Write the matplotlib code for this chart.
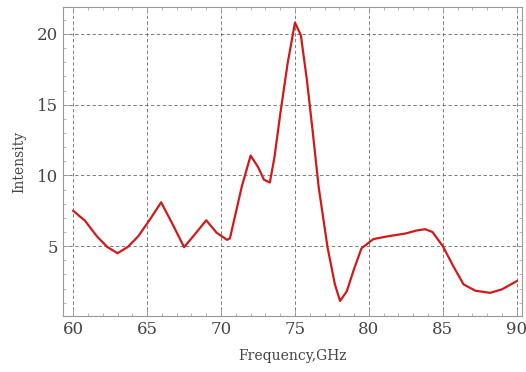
import matplotlib.pyplot as plt
from matplotlib.ticker import MultipleLocator

freq = [60.0, 60.8, 61.6, 62.3, 63.0, 63.7, 64.4, 65.2, 65.95, 66.7, 67.5,
        68.2, 69.0, 69.7, 70.4, 70.6, 71.4, 72.0, 72.5, 72.9, 73.3, 73.6,
        74.0, 74.5, 75.0, 75.4, 75.8, 76.2, 76.6, 77.2, 77.7, 78.05, 78.5,
        79.0, 79.5, 80.3, 81.3, 82.5, 83.2, 83.8, 84.3, 85.0, 85.7, 86.4,
        87.2, 88.2, 89.0, 90.0]
intensity = [7.5, 6.8, 5.7, 4.95, 4.5, 4.95, 5.7, 6.9, 8.1, 6.6, 4.93,
             5.8, 6.83, 5.95, 5.45, 5.55, 9.2, 11.4, 10.6, 9.7, 9.5, 11.2,
             14.3, 17.9, 20.8, 19.9, 16.8, 13.1, 9.2, 4.93, 2.3, 1.13, 1.8,
             3.4, 4.85, 5.5, 5.7, 5.9, 6.1, 6.2, 6.0, 5.0, 3.6, 2.3,
             1.85, 1.7, 1.95, 2.53]

fig = plt.figure(figsize=(5.26, 3.72), dpi=100)
ax = fig.add_axes([0.12, 0.15, 0.872, 0.831])

ax.plot(freq, intensity, color='#d01a1a', linewidth=1.6)

ax.set_xlim(59.32, 90.34)
ax.set_ylim(0.05, 21.9)
ax.xaxis.set_major_locator(MultipleLocator(5))
ax.xaxis.set_minor_locator(MultipleLocator(1))
ax.yaxis.set_minor_locator(MultipleLocator(1))
ax.set_yticks([5, 10, 15, 20])
ax.tick_params(which='both', direction='in', top=True, right=True, colors='#999999',
               labelcolor='#444444', labelsize=12)
ax.tick_params(which='major', length=4, width=0.6)
ax.tick_params(which='minor', length=2, width=0.5)
for lab in ax.get_xticklabels() + ax.get_yticklabels():
    lab.set_family('DejaVu Serif')
for s in ax.spines.values():
    s.set_color('#999999')

ax.grid(True, which='major', color='#666666', linestyle=(0, (4, 3)), linewidth=0.6)

ax.set_xlabel('Frequency,GHz', family='DejaVu Serif', fontsize=10, color='#444444', labelpad=8)
ax.set_ylabel('Intensity', family='DejaVu Serif', fontsize=10, color='#444444', labelpad=8)

fig.savefig('out.png', dpi=100)
